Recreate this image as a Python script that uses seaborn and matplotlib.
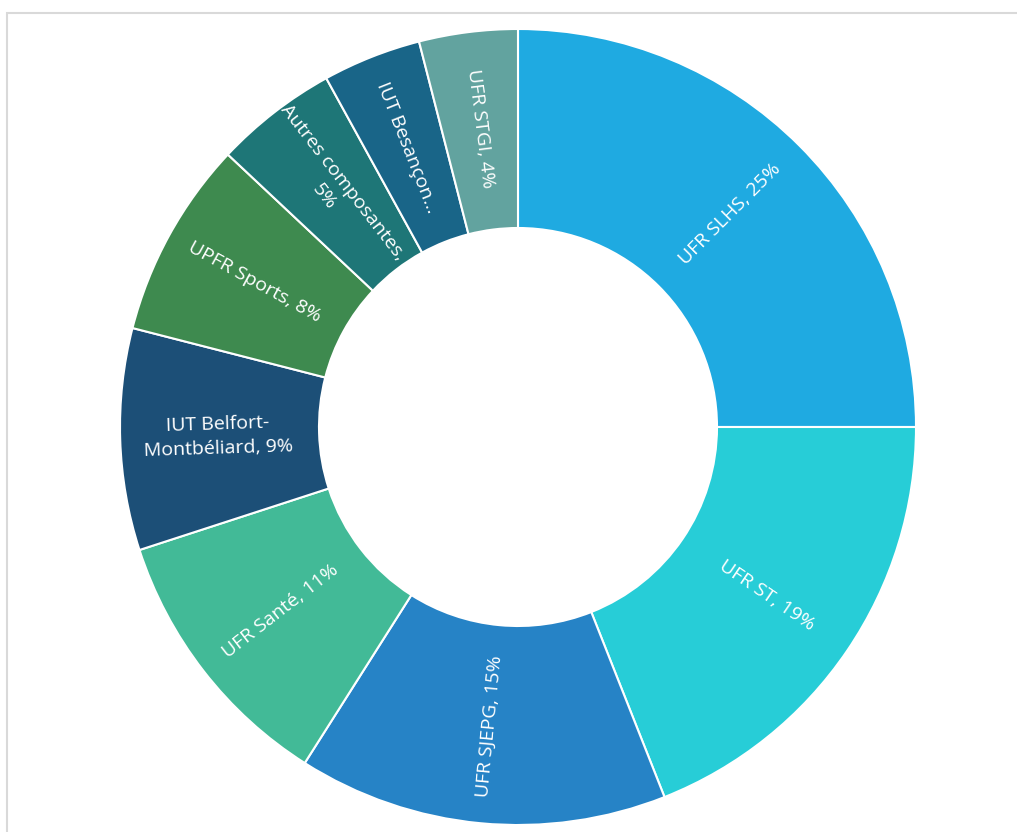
# -*- coding: utf-8 -*-

import matplotlib.pyplot as plt
import matplotlib.patches as mpatches
import seaborn as sns
import numpy as np

# données du graphique (sens horaire depuis le haut)
categories = ['UFR SLHS', 'UFR ST', 'UFR SJEPG', 'UFR Santé',
              'IUT Belfort-Montbéliard', 'UPFR Sports', 'Autres composantes',
              'IUT Besançon', 'UFR STGI']
values = [25, 19, 15, 11, 9, 8, 5, 4, 4]
label_texts = ['UFR SLHS, 25%', 'UFR ST, 19%', 'UFR SJEPG, 15%', 'UFR Santé, 11%',
               'IUT Belfort-\nMontbéliard, 9%', 'UPFR Sports, 8%',
               'Autres composantes,\n5%', 'IUT Besançon...', 'UFR STGI, 4%']
colors = ['#1FAAE1', '#27CDD7', '#2683C6', '#42BA97', '#1C4F77',
          '#3E8A4F', '#1E7677', '#196588', '#62A39F']

sns.set_style('white')
plt.rcParams['font.family'] = ['Open Sans', 'DejaVu Sans']

fig = plt.figure(figsize=(10.17, 8.32), dpi=100)
fig.patch.set_facecolor('white')

# cadre gris clair (haut et gauche visibles)
fig.add_artist(mpatches.Rectangle((7 / 1017, -0.1), 1.2, (832 - 13) / 832 + 0.1,
                                  transform=fig.transFigure, fill=False,
                                  edgecolor='#D9D9D9', linewidth=1.5))

cx, cy, R = 518, 427, 398
ax = fig.add_axes([(cx - R) / 1017, (832 - cy - R) / 832, 2 * R / 1017, 2 * R / 832])

palette = sns.color_palette(colors)
wedges, _ = ax.pie(values, colors=palette, startangle=90, counterclock=False,
                   radius=1.0, wedgeprops=dict(width=0.5, edgecolor='white', linewidth=1.5))

for w, txt in zip(wedges, label_texts):
    mid = (w.theta1 + w.theta2) / 2.0
    rad = np.deg2rad(mid)
    x, y = 0.755 * np.cos(rad), 0.755 * np.sin(rad)
    rot = ((mid + 90) % 180) - 90
    ax.text(x, y, txt, ha='center', va='center', rotation=rot,
            rotation_mode='anchor', color='white', fontsize=14,
            linespacing=1.4)

ax.set_xlim(-1, 1)
ax.set_ylim(-1, 1)
ax.set_aspect('equal')
ax.axis('off')

fig.savefig('out.png', dpi=100, facecolor='white')
